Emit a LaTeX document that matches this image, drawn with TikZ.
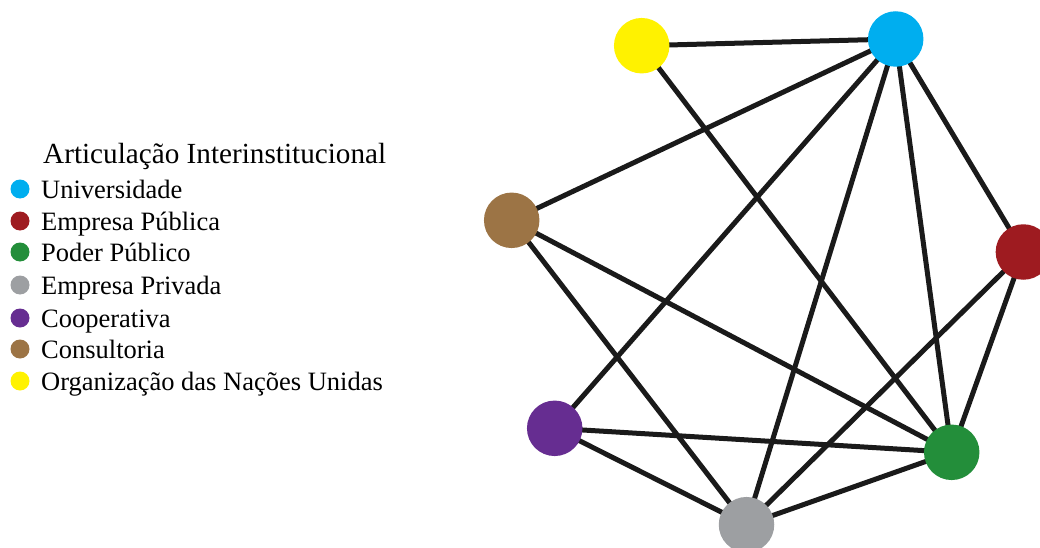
\documentclass[tikz,border=0pt]{standalone}
\usepackage{fontspec}
\setmainfont{Liberation Serif}
\usepackage{xcolor}
\usepackage{tikz}
\usetikzlibrary{positioning}
\pgfdeclarelayer{nodelayer}
\pgfdeclarelayer{edgelayer}
\pgfsetlayers{edgelayer,nodelayer,main}

\definecolor{univ}{HTML}{00AEEF}
\definecolor{emppub}{HTML}{9E1B20}
\definecolor{poder}{HTML}{238E3A}
\definecolor{emppriv}{HTML}{9D9FA2}
\definecolor{coop}{HTML}{662D91}
\definecolor{consult}{HTML}{9C7445}
\definecolor{onu}{HTML}{FFF200}
\definecolor{tiecol}{HTML}{1A1A1A}

\tikzset{
  actor/.style={circle, inner sep=0pt, minimum size=55.5pt},
  keydot/.style={circle, inner sep=0pt, minimum size=19pt},
  keytext/.style={anchor=base west, inner sep=0pt, font=\fontsize{26.5}{30}\selectfont},
  tie/.style={line width=5pt, draw=tiecol}
}

\begin{document}
\begin{tikzpicture}[x=1pt, y=-1pt]
  \useasboundingbox (0, 0) rectangle (1040, 548);
  \clip (0, 0) rectangle (1040, 548);
  \begin{pgfonlayer}{nodelayer}
    % network
    \node [actor, fill=onu] (0) at (641.7, 45.7) {};
    \node [actor, fill=univ] (1) at (895.7, 39) {};
    \node [actor, fill=consult] (2) at (511.7, 220.3) {};
    \node [actor, fill=emppub] (3) at (1023.4, 252) {};
    \node [actor, fill=coop] (4) at (554.7, 428.3) {};
    \node [actor, fill=emppriv] (5) at (746.5, 524.7) {};
    \node [actor, fill=poder] (6) at (951.7, 452.3) {};
    % legend
    \node [keytext, font=\fontsize{29.2}{32}\selectfont] (7) at (43, 164) {Articulação Interinstitucional};
    \node [keydot, fill=univ] (8) at (20, 189) {};
    \node [keydot, fill=emppub] (9) at (20, 221) {};
    \node [keydot, fill=poder] (10) at (20, 252) {};
    \node [keydot, fill=emppriv] (11) at (20, 285) {};
    \node [keydot, fill=coop] (12) at (20, 318) {};
    \node [keydot, fill=consult] (13) at (20, 349) {};
    \node [keydot, fill=onu] (14) at (20, 381) {};
    \node [keytext] (15) at (41, 198) {Universidade};
    \node [keytext] (16) at (41, 230) {Empresa Pública};
    \node [keytext] (17) at (41, 261) {Poder Público};
    \node [keytext] (18) at (41, 294) {Empresa Privada};
    \node [keytext] (19) at (41, 327) {Cooperativa};
    \node [keytext] (20) at (41, 358) {Consultoria};
    \node [keytext] (21) at (41, 390) {Organização das Nações Unidas};
  \end{pgfonlayer}
  \begin{pgfonlayer}{edgelayer}
    \draw [tie] (0.center) to (1.center);
    \draw [tie] (0.center) to (6.center);
    \draw [tie] (1.center) to (2.center);
    \draw [tie] (1.center) to (4.center);
    \draw [tie] (1.center) to (5.center);
    \draw [tie] (1.center) to (6.center);
    \draw [tie] (1.center) to (3.center);
    \draw [tie] (2.center) to (6.center);
    \draw [tie] (2.center) to (5.center);
    \draw [tie] (4.center) to (6.center);
    \draw [tie] (4.center) to (5.center);
    \draw [tie] (5.center) to (6.center);
    \draw [tie] (5.center) to (3.center);
    \draw [tie] (3.center) to (6.center);
  \end{pgfonlayer}
\end{tikzpicture}
\end{document}
